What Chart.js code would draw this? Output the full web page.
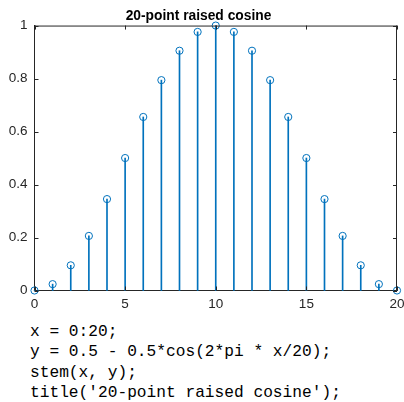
<!DOCTYPE html>
<html>
<head>
<meta charset="utf-8">
<script src="https://cdn.jsdelivr.net/npm/chart.js@4/dist/chart.umd.min.js"></script>
<style>
  html, body { margin: 0; padding: 0; background: #fff; }
  #wrap { position: relative; width: 404px; height: 402px; overflow: hidden; }
  #plot { position: absolute; left: 0; top: 0; width: 404px; height: 312px; }
  #code {
    position: absolute; left: 30px; top: 322px; margin: 0;
    font-family: "Liberation Mono", "DejaVu Sans Mono", monospace;
    font-size: 16.2px; line-height: 20.4px; color: #000;
  }
</style>
</head>
<body>
<div id="wrap">
  <div id="plot"><canvas id="chart"></canvas></div>
  <pre id="code">x = 0:20;
y = 0.5 - 0.5*cos(2*pi * x/20);
stem(x, y);
title('20-point raised cosine');</pre>
</div>
<script>
/* sample index and values */
const xValues = [0, 1, 2, 3, 4, 5, 6, 7, 8, 9, 10, 11, 12, 13, 14, 15, 16, 17, 18, 19, 20];
const yValues = [0, 0.024, 0.095, 0.206, 0.345, 0.5, 0.655, 0.794, 0.905, 0.976, 1,
                 0.976, 0.905, 0.794, 0.655, 0.5, 0.345, 0.206, 0.095, 0.024, 0];
const xTicks = [0, 5, 10, 15, 20];
const yTicks = [0, 0.2, 0.4, 0.6, 0.8, 1];
const chartTitle = '20-point raised cosine';

const STEM = '#0072BD';
const AXIS = '#262626';
const FONT = '"Liberation Sans", Arial, sans-serif';

const points = xValues.map((x, i) => ({ x, y: yValues[i] }));

/* box on top/right plus MATLAB-style inward ticks on all four sides */
const boxTicks = {
  id: 'boxTicks',
  afterDraw(chart) {
    const { ctx, chartArea: a, scales } = chart;
    const len = 4;
    ctx.save();
    ctx.strokeStyle = AXIS;
    ctx.lineWidth = 1;
    ctx.beginPath();
    ctx.moveTo(a.left, a.top + 0.5);
    ctx.lineTo(a.right, a.top + 0.5);
    ctx.moveTo(a.right - 0.5, a.top);
    ctx.lineTo(a.right - 0.5, a.bottom);
    xTicks.forEach(v => {
      const px = Math.round(scales.x.getPixelForValue(v)) + 0.5;
      ctx.moveTo(px, a.bottom); ctx.lineTo(px, a.bottom - len);
      ctx.moveTo(px, a.top); ctx.lineTo(px, a.top + len);
    });
    yTicks.forEach(v => {
      const py = Math.round(scales.y.getPixelForValue(v)) + 0.5;
      ctx.moveTo(a.left, py); ctx.lineTo(a.left + len, py);
      ctx.moveTo(a.right, py); ctx.lineTo(a.right - len, py);
    });
    ctx.stroke();
    ctx.restore();
  }
};

new Chart(document.getElementById('chart'), {
  type: 'scatter',
  data: {
    datasets: [
      {
        type: 'scatter',
        data: points,
        showLine: false,
        pointStyle: 'circle',
        pointRadius: 3.6,
        pointBorderWidth: 1,
        pointBorderColor: STEM,
        pointBackgroundColor: 'rgba(0,0,0,0)',
        clip: false,
        order: 0,
      },
      {
        type: 'bar',
        data: points,
        backgroundColor: STEM,
        borderWidth: 0,
        barThickness: 1,
        clip: false,
        order: 1,
      },
    ],
  },
  options: {
    responsive: true,
    maintainAspectRatio: false,
    animation: false,
    devicePixelRatio: 1,
    layout: { padding: { left: 0, right: 7, top: 0, bottom: 0 } },
    plugins: {
      legend: { display: false },
      tooltip: { enabled: false },
      title: {
        display: true,
        text: chartTitle,
        color: '#000',
        font: { family: FONT, size: 13.8, weight: 'bold' },
        padding: { top: 8, bottom: 1 },
      },
    },
    scales: {
      x: {
        type: 'linear',
        min: 0,
        max: 20,
        offset: false,
        grid: { display: false, drawTicks: false },
        border: { display: true, color: AXIS, width: 1 },
        afterBuildTicks: s => { s.ticks = xTicks.map(v => ({ value: v })); },
        afterFit: s => { s.height = 21.5; s.paddingLeft = 0; s.paddingRight = 0; },
        ticks: {
          padding: 6,
          maxRotation: 0,
          color: '#262626',
          font: { family: FONT, size: 13.5 },
        },
      },
      y: {
        type: 'linear',
        min: 0,
        max: 1,
        grid: { display: false, drawTicks: false },
        border: { display: true, color: AXIS, width: 1 },
        afterBuildTicks: s => { s.ticks = yTicks.map(v => ({ value: v })); },
        afterFit: s => { s.width = 34.5; s.paddingTop = 0; s.paddingBottom = 0; },
        ticks: {
          padding: 7,
          color: '#262626',
          font: { family: FONT, size: 13.5 },
          callback: v => String(v),
        },
      },
    },
  },
  plugins: [boxTicks],
});
</script>
</body>
</html>
